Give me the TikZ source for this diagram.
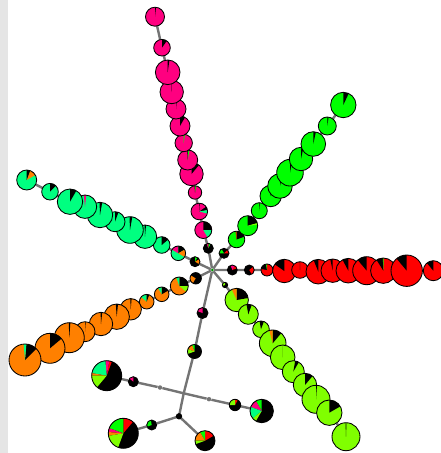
\documentclass[tikz,border=0pt]{standalone}
\usepackage{tikz}
\usetikzlibrary{backgrounds}

\definecolor{pnk}{RGB}{255,0,128}
\definecolor{grn}{RGB}{0,255,0}
\definecolor{sgrn}{RGB}{0,255,128}
\definecolor{ygrn}{RGB}{128,255,0}
\definecolor{org}{RGB}{255,128,0}
\definecolor{linkgray}{RGB}{116,116,116}

% pie node: name, position, radius (px), main colour, wedges start/end/colour
\newcommand{\pienode}[5]{%
  \node[pienode, minimum size=#3*2pt, fill=#4,
    path picture={%
      \foreach \sa/\ea/\wc in {#5}{%
        \fill[\wc] (path picture bounding box.center) -- ++(\sa:#3pt+1pt)
          arc[start angle=\sa, end angle=\ea, radius=#3pt+1pt] -- cycle;}}]
    (#1) at (#2) {};}

\begin{document}
\begin{tikzpicture}[x=1pt, y=-1pt,
    pienode/.style={circle, draw=black, line width=0.85pt, inner sep=0pt, outer sep=0pt},
    link/.style={draw=linkgray, line width=2.4pt},
    linkdot/.style={circle, fill=linkgray, inner sep=0pt, minimum size=4.5pt},
    hubdot/.style={circle, fill=grn!55!black, inner sep=0pt, minimum size=3pt}]

    % Frame
    \useasboundingbox (0,0) rectangle (441,453);
    \fill[gray!20] (0,0) rectangle (8,453);

    % Hub
    \node[hubdot] (hub) at (212.3,270) {};

    % Pink arm
    \pienode{p1}{208.3,248.3}{5}{black}{60/90/grn, 90/110/pnk}
    \pienode{p2}{203.3,230}{8.5}{pnk}{0/90/black, -60/0/sgrn}
    \pienode{p3}{199.3,211.5}{8.3}{pnk}{10/35/black, -15/10/sgrn, 88/92/black}
    \pienode{p4}{195,192.5}{6.7}{pnk}{80/88/grn, 88/94/black}
    \pienode{p5}{191.5,174}{11.7}{pnk}{50/90/black}
    \pienode{p6}{187.7,160}{10}{pnk}{80/88/grn, 88/92/black}
    \pienode{p7}{183.7,143}{8.7}{pnk}{82/90/grn}
    \pienode{p8}{180,126}{10}{pnk}{60/90/black}
    \pienode{p9}{176,109}{10}{pnk}{85/90/black}
    \pienode{p10}{171.7,92}{11.7}{pnk}{88/90/black}
    \pienode{p11}{167.7,72.3}{12.3}{pnk}{82/90/black}
    \pienode{p12}{162,47.7}{8.3}{pnk}{55/90/black}
    \pienode{p13}{155,16.7}{9.5}{pnk}{84/90/black}

    % Green arm
    \pienode{g1}{224,253.3}{5}{black}{0/45/red, 120/180/grn}
    \pienode{g2}{236.5,239.5}{8.3}{grn}{20/90/black, 90/97/red}
    \pienode{g3}{247.7,225.7}{10}{grn}{15/90/black, 5/15/ygrn}
    \pienode{g4}{259.3,210.7}{8}{grn}{84/90/black}
    \pienode{g5}{270.7,196}{10.7}{grn}{80/90/black}
    \pienode{g6}{280,186}{12.3}{grn}{78/90/black}
    \pienode{g7}{290,172.7}{13.3}{grn}{80/90/black}
    \pienode{g8}{301,159}{11.7}{grn}{78/90/black}
    \pienode{g9}{313.3,144}{12.3}{grn}{78/90/black}
    \pienode{g10}{327.3,126}{9}{grn}{82/90/black}
    \pienode{g11}{343.3,105}{12.7}{grn}{65/90/black}

    % Red arm
    \pienode{r1}{232.3,270}{5}{black}{20/60/red, 60/110/pnk}
    \pienode{r2}{249.3,270}{5}{black}{-60/40/red}
    \pienode{r3}{267,270}{6}{red}{100/170/black, 90/100/grn}
    \pienode{r4}{284.3,271}{11.7}{red}{90/145/black}
    \pienode{r5}{300,270}{8.3}{red}{90/92/black}
    \pienode{r6}{318.3,271.7}{12.3}{red}{90/112/black}
    \pienode{r7}{332.7,270.7}{11.7}{red}{90/102/black}
    \pienode{r8}{348.3,270.7}{12.3}{red}{90/118/black}
    \pienode{r9}{366.7,270.7}{14}{red}{90/130/black}
    \pienode{r10}{383.3,270.7}{12.7}{red}{92/122/black, 88/92/grn}
    \pienode{r11}{406.7,270.7}{15.7}{red}{90/130/black}
    \pienode{r12}{433.3,270.7}{10}{red}{90/130/black}

    % Yellow-green arm
    \pienode{y1}{225,285}{2.7}{black}{90/200/ygrn}
    \pienode{y2}{236.7,300}{11.7}{ygrn}{10/90/black, 90/115/org}
    \pienode{y3}{248.3,314.3}{10}{ygrn}{70/100/black}
    \pienode{y4}{261,329.3}{8.3}{ygrn}{70/100/black}
    \pienode{y5}{272.7,343.3}{13.3}{ygrn}{50/90/black, 90/105/org}
    \pienode{y6}{282.7,357.3}{12.3}{ygrn}{90/90/black}
    \pienode{y7}{293.3,371.7}{11}{ygrn}{60/80/black}
    \pienode{y8}{305,385}{11.7}{ygrn}{50/90/black}
    \pienode{y9}{316,399.3}{14}{ygrn}{86/90/black}
    \pienode{y10}{329.3,412.7}{12.7}{ygrn}{30/90/black}
    \pienode{y11}{346,436.7}{14}{ygrn}{88/92/black}

    % Spring-green arm
    \pienode{c1}{195,261.7}{5}{black}{-30/30/org, 60/90/grn}
    \pienode{c2}{178.3,253.3}{7.3}{sgrn}{90/150/pnk, 30/90/black, -30/30/org}
    \pienode{c3}{161.7,245}{8.3}{sgrn}{40/90/black}
    \pienode{c4}{145,236.7}{11.7}{sgrn}{85/92/black}
    \pienode{c5}{130,230}{13.3}{sgrn}{80/92/black}
    \pienode{c6}{115,221.7}{10}{sgrn}{70/90/black}
    \pienode{c7}{100,215}{12.7}{sgrn}{80/92/black}
    \pienode{c8}{85,206.7}{11.7}{sgrn}{84/96/pnk}
    \pienode{c9}{70,201.7}{12.7}{sgrn}{60/90/black}
    \pienode{c10}{50,191.7}{8.3}{sgrn}{45/90/black}
    \pienode{c11}{26.7,180}{10}{sgrn}{30/70/org, 70/90/black}

    % Orange arm
    \pienode{o1}{195.7,278.3}{5.7}{black}{150/240/org}
    \pienode{o2}{179.3,286}{9}{org}{0/90/black, 90/110/sgrn, -40/0/ygrn}
    \pienode{o3}{161.7,294.3}{7.3}{org}{30/90/black, 90/120/sgrn}
    \pienode{o4}{146.7,301.7}{7.3}{org}{90/140/sgrn, 70/90/black}
    \pienode{o5}{130.7,309.3}{10.7}{org}{85/92/black}
    \pienode{o6}{116.7,316.7}{12.7}{org}{84/94/black}
    \pienode{o7}{101,324}{11.7}{org}{84/92/black}
    \pienode{o8}{85,331.7}{10}{org}{86/90/black}
    \pienode{o9}{69.3,337.7}{15}{org}{86/92/black}
    \pienode{o10}{50,348.3}{15}{org}{40/90/black}
    \pienode{o11}{25,360}{16}{org}{45/85/black, 85/95/sgrn}

    % Lower tree
    \pienode{b1}{202.5,313}{5.5}{black}{90/160/pnk}
    \pienode{b2}{194.5,351.5}{7}{black}{90/110/grn, 110/160/org, 160/200/ygrn}
    \coordinate (j1) at (183.7,393.3);
    \node[linkdot] (d1) at (160,387.5) {};
    \node[linkdot] (d2) at (209,399.2) {};
    \pienode{b3}{133.3,381.7}{5}{black}{90/140/pnk}
    \pienode{b4}{106.7,375.7}{15}{black}{70/80/red, 80/95/pnk, 95/170/sgrn, 170/180/org, 180/230/ygrn}
    \pienode{b5}{235,405}{5.7}{black}{60/90/red, 90/180/ygrn}
    \pienode{b6}{261.7,411}{11.7}{black}{90/120/grn, 120/160/pnk, 160/220/sgrn, 220/240/ygrn}
    \pienode{j2}{179,416.3}{2.7}{black}{90/90/black}
    \pienode{b7}{151.7,425}{5}{black}{100/200/grn}
    \pienode{b8}{123.3,433.3}{15}{black}{50/90/red, 90/160/grn, 160/175/pnk, 175/190/org, 190/250/ygrn}
    \pienode{b9}{205,440.7}{10}{black}{30/90/red, 90/120/grn, 120/180/org, 180/200/ygrn}

    % Links
    \begin{scope}[on background layer]
      \draw[link] (hub) -- (p1) -- (p2) -- (p3) -- (p4) -- (p5) -- (p6) -- (p7) -- (p8) -- (p9) -- (p10) -- (p11) -- (p12) -- (p13);
      \draw[link] (hub) -- (g1) -- (g2) -- (g3) -- (g4) -- (g5) -- (g6) -- (g7) -- (g8) -- (g9) -- (g10) -- (g11);
      \draw[link] (hub) -- (r1) -- (r2) -- (r3) -- (r4) -- (r5) -- (r6) -- (r7) -- (r8) -- (r9) -- (r10) -- (r11) -- (r12);
      \draw[link] (hub) -- (y1) -- (y2) -- (y3) -- (y4) -- (y5) -- (y6) -- (y7) -- (y8) -- (y9) -- (y10) -- (y11);
      \draw[link] (hub) -- (c1) -- (c2) -- (c3) -- (c4) -- (c5) -- (c6) -- (c7) -- (c8) -- (c9) -- (c10) -- (c11);
      \draw[link] (hub) -- (o1) -- (o2) -- (o3) -- (o4) -- (o5) -- (o6) -- (o7) -- (o8) -- (o9) -- (o10) -- (o11);
      \draw[link] (hub) -- (b1) -- (b2) -- (j1) -- (j2) -- (b7) -- (b8);
      \draw[link] (j1) -- (d1) -- (b3) -- (b4);
      \draw[link] (j1) -- (d2) -- (b5) -- (b6);
      \draw[link] (j2) -- (b9);
    \end{scope}

\end{tikzpicture}
\end{document}
